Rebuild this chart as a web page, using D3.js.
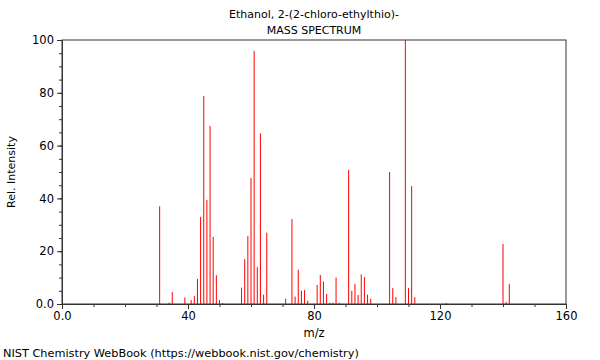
<!DOCTYPE html>
<html>
<head>
<meta charset="utf-8">
<script src="https://cdn.jsdelivr.net/npm/d3@7"></script>
<style>
  body { margin: 0; background: #fff; }
  text { font-family: "DejaVu Sans", sans-serif; fill: #000; }
</style>
</head>
<body>
<div id="chart"></div>
<script>
var width = 600,
	height = 360;

// peaks
var mz = [31, 34, 35, 39, 41, 42, 43, 44, 45, 46, 47, 48, 49, 50, 51,
	57, 58, 59, 60, 61, 62, 63, 64, 65,
	71, 73, 74, 75, 76, 77, 78, 81, 82, 83, 84, 85, 86, 87, 88,
	91, 92, 93, 94, 95, 96, 97, 98, 104, 105, 106, 109, 110, 111, 112,
	122, 140, 141, 142];
var intensity = [37, 0.5, 4.5, 2.5, 1.5, 3, 9.5, 33, 78.8, 39.4, 67.4, 25.4, 10.9, 1.5, 0.4,
	6.2, 17, 25.8, 47.7, 95.8, 14, 64.6, 3.5, 27,
	2, 32.2, 2.8, 13, 5, 5.3, 1.3, 7.2, 11, 8.5, 3.8, 0.5, 0.5, 10, 0.5,
	50.8, 5, 7.6, 3.4, 11.2, 10.2, 3.5, 2, 50, 6, 2.6, 100, 6, 44.7, 2.6,
	0.4, 22.7, 0.8, 7.6];

var xTicks = [0, 40, 80, 120, 160];
var yTicks = [0, 20, 40, 60, 80, 100];

var margin = {left: 62, right: 34, top: 40, bottom: 56};

var svg = d3.select("#chart").append("svg")
	.attr("width", width)
	.attr("height", height);

var x = d3.scaleLinear()
	.domain([0, 160])
	.range([margin.left, width - margin.right]);

var y = d3.scaleLinear()
	.domain([0, 100])
	.range([height - margin.bottom, margin.top]);

// frame
svg.append("rect")
	.attr("x", x(0))
	.attr("y", y(100))
	.attr("width", x(160) - x(0))
	.attr("height", y(0) - y(100))
	.attr("fill", "none")
	.attr("stroke", "#333")
	.attr("stroke-width", 1);

// peaks
svg.append("g")
	.selectAll("line")
	.data(mz)
	.enter()
	.append("line")
	.attr("x1", function(d) { return x(d); })
	.attr("x2", function(d) { return x(d); })
	.attr("y1", y(0))
	.attr("y2", function(d, i) { return y(intensity[i]); })
	.attr("stroke", "#ff0000")
	.attr("stroke-width", 1);

// x axis
var xAxis = svg.append("g")
	.attr("transform", "translate(0," + y(0) + ")");
xAxis.append("g")
	.call(d3.axisBottom(x).tickValues(d3.range(0, 161, 10)).tickSize(3).tickFormat(""));
xAxis.append("g")
	.call(d3.axisBottom(x).tickValues(xTicks).tickSize(5)
		.tickFormat(function(d) { return d == 0 ? "0.0" : d; }));

// y axis
var yAxis = svg.append("g")
	.attr("transform", "translate(" + x(0) + ",0)");
yAxis.append("g")
	.call(d3.axisLeft(y).tickValues(d3.range(0, 101, 5)).tickSize(3).tickFormat(""));
yAxis.append("g")
	.call(d3.axisLeft(y).tickValues(yTicks).tickSize(5)
		.tickFormat(function(d) { return d == 0 ? "0.0" : d; }));

svg.selectAll(".domain").attr("stroke", "#333");
svg.selectAll(".tick line").attr("stroke", "#333");
svg.selectAll(".tick text")
	.style("font-size", "11.5px")
	.style("font-family", "DejaVu Sans, sans-serif")
	.attr("fill", "#000");

// titles
svg.append("text")
	.attr("x", 314)
	.attr("y", 18)
	.attr("text-anchor", "middle")
	.style("font-size", "11px")
	.text("Ethanol, 2-(2-chloro-ethylthio)-");

svg.append("text")
	.attr("x", 314)
	.attr("y", 34)
	.attr("text-anchor", "middle")
	.style("font-size", "11px")
	.text("MASS SPECTRUM");

svg.append("text")
	.attr("x", 314)
	.attr("y", 337)
	.attr("text-anchor", "middle")
	.style("font-size", "11.5px")
	.text("m/z");

svg.append("text")
	.attr("transform", "translate(15," + y(50) + ") rotate(-90)")
	.attr("text-anchor", "middle")
	.style("font-size", "11px")
	.text("Rel. Intensity");

svg.append("text")
	.attr("x", 3)
	.attr("y", 357)
	.style("font-size", "11.3px")
	.text("NIST Chemistry WebBook (https://webbook.nist.gov/chemistry)");
</script>
</body>
</html>
